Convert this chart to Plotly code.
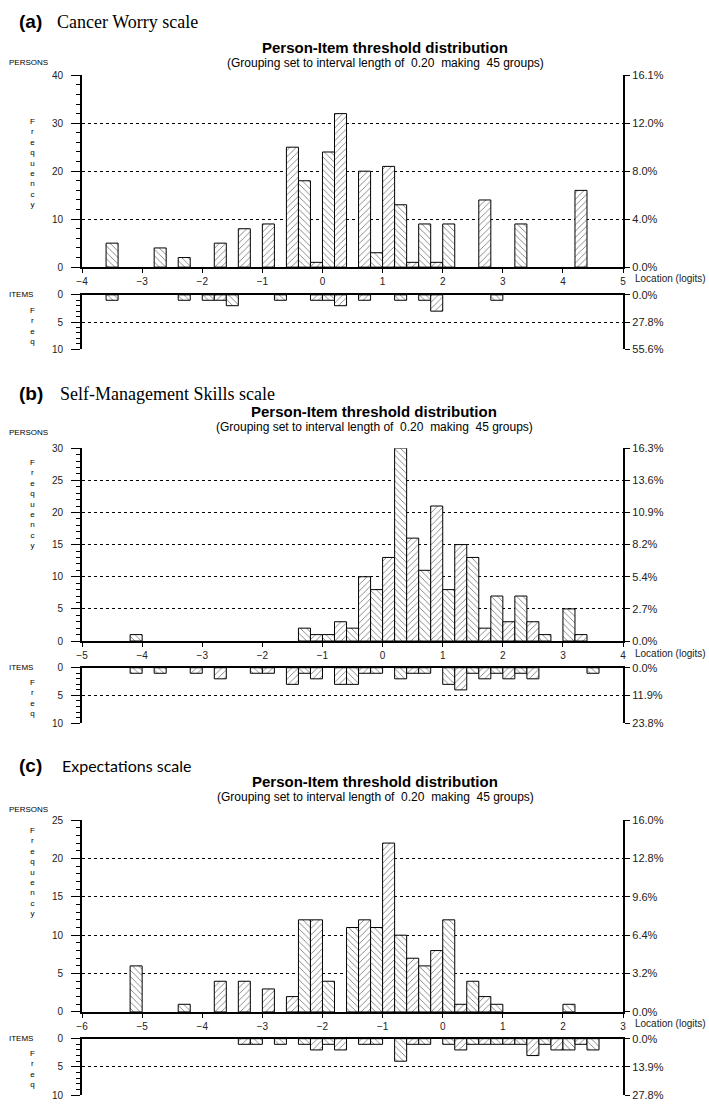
import plotly.graph_objects as go

# (a) Cancer Worry scale -- lower edge of each 0.20 logit class interval
a_person_bins = [-3.6, -2.8, -2.4, -1.8, -1.4, -1.0, -0.6, -0.4, -0.2, 0.0, 0.2,
                 0.6, 0.8, 1.0, 1.2, 1.4, 1.6, 1.8, 2.0, 2.6, 3.2, 4.2]
a_person_counts = [5, 4, 2, 5, 8, 9, 25, 18, 1, 24, 32,
                   20, 3, 21, 13, 1, 9, 1, 9, 14, 9, 16]
a_item_bins = [-3.6, -2.4, -2.0, -1.8, -1.6, -0.8, -0.2, 0.0, 0.2, 0.6, 1.2, 1.6, 1.8, 2.8]
a_item_counts = [1, 1, 1, 1, 2, 1, 1, 1, 2, 1, 1, 1, 3, 1]
a_person_ticks = [0, 10, 20, 30, 40]
a_person_pct = ["0.0%", "4.0%", "8.0%", "12.0%", "16.1%"]
a_item_pct = ["0.0%", "27.8%", "55.6%"]

# (b) Self-Management Skills scale
b_person_bins = [-4.2, -1.4, -1.2, -1.0, -0.8, -0.6, -0.4, -0.2, 0.0, 0.2, 0.4, 0.6,
                 0.8, 1.0, 1.2, 1.4, 1.6, 1.8, 2.0, 2.2, 2.4, 2.6, 3.0, 3.2]
b_person_counts = [1, 2, 1, 1, 3, 2, 10, 8, 13, 30, 16, 11,
                   21, 8, 15, 13, 2, 7, 3, 7, 3, 1, 5, 1]
b_item_bins = [-4.2, -3.8, -3.2, -2.8, -2.2, -2.0, -1.6, -1.4, -1.2, -0.8, -0.6, -0.4, -0.2,
               0.2, 0.4, 0.6, 1.0, 1.2, 1.4, 1.6, 1.8, 2.0, 2.2, 2.4, 3.4]
b_item_counts = [1, 1, 1, 2, 1, 1, 3, 1, 2, 3, 3, 1, 1,
                 2, 1, 1, 3, 4, 1, 2, 1, 2, 1, 2, 1]
b_person_ticks = [0, 5, 10, 15, 20, 25, 30]
b_person_pct = ["0.0%", "2.7%", "5.4%", "8.2%", "10.9%", "13.6%", "16.3%"]
b_item_pct = ["0.0%", "11.9%", "23.8%"]

# (c) Expectations scale
c_person_bins = [-5.2, -4.4, -3.8, -3.4, -3.0, -2.6, -2.4, -2.2, -2.0, -1.6, -1.4, -1.2,
                 -1.0, -0.8, -0.6, -0.4, -0.2, 0.0, 0.2, 0.4, 0.6, 0.8, 2.0]
c_person_counts = [6, 1, 4, 4, 3, 2, 12, 12, 4, 11, 12, 11,
                   22, 10, 7, 6, 8, 12, 1, 4, 2, 1, 1]
c_item_bins = [-3.4, -3.2, -2.8, -2.4, -2.2, -2.0, -1.8, -1.4, -1.2, -0.8, -0.6, -0.4,
               0.0, 0.2, 0.4, 0.6, 0.8, 1.0, 1.2, 1.4, 1.6, 1.8, 2.0, 2.2, 2.4]
c_item_counts = [1, 1, 1, 1, 2, 1, 2, 1, 1, 4, 1, 1,
                 1, 2, 1, 1, 1, 1, 1, 3, 1, 2, 2, 1, 2]
c_person_ticks = [0, 5, 10, 15, 20, 25]
c_person_pct = ["0.0%", "3.2%", "6.4%", "9.6%", "12.8%", "16.0%"]
c_item_pct = ["0.0%", "13.9%", "27.8%"]

item_ticks = [0, 5, 10]

panels = [
    dict(tag="(a)", name="Cancer Worry scale", name_font="Liberation Serif", name_size=18,
         xr=[-4, 5], pb=a_person_bins, pc=a_person_counts, ib=a_item_bins, ic=a_item_counts,
         pt=a_person_ticks, pp=a_person_pct, ip=a_item_pct, minor=2),
    dict(tag="(b)", name="Self-Management Skills scale", name_font="Liberation Serif", name_size=18,
         xr=[-5, 4], pb=b_person_bins, pc=b_person_counts, ib=b_item_bins, ic=b_item_counts,
         pt=b_person_ticks, pp=b_person_pct, ip=b_item_pct, minor=1),
    dict(tag="(c)", name="Expectations scale", name_font="Lato", name_size=16,
         xr=[-6, 3], pb=c_person_bins, pc=c_person_counts, ib=c_item_bins, ic=c_item_counts,
         pt=c_person_ticks, pp=c_person_pct, ip=c_item_pct, minor=1),
]

# pixel layout of each panel on the 709 x 1105 page
W, H = 709, 1105
X0, X1 = 77, 625
geo = [
    dict(p_top=70, p_bot=264, i_top=292, i_bot=347, tag_y=16, name_x=50, title_y=42, title_x=384,
         persons_y=57, loc_y=275, freq_y=159, ifreq_y=324),
    dict(p_top=447, p_bot=642, i_top=669, i_bot=725, tag_y=392, name_x=53, title_y=410, title_x=373,
         persons_y=431, loc_y=655, freq_y=503, ifreq_y=700),
    dict(p_top=823, p_bot=1017, i_top=1044, i_bot=1101, tag_y=768, name_x=55, title_y=784, title_x=374,
         persons_y=812, loc_y=1029, freq_y=876, ifreq_y=1075),
]

SANS = "Liberation Sans, Arial, sans-serif"
TICKFONT = dict(family=SANS, size=10, color="#222")
PCTFONT = dict(family=SANS, size=11, color="#222")


def px(x):
    return x / W


def py(y):
    return 1 - y / H


def ax(kind, n):
    return kind if n == 1 else kind + str(n)


def hatch(bins, xmin):
    # hatch direction flips between neighbouring class intervals
    return ["\\" if round((b - xmin) / 0.2) % 2 == 0 else "/" for b in bins]


def bars(bins, counts, xmin, xa, ya):
    return go.Bar(x=bins, y=counts, width=0.2, offset=0, xaxis=xa, yaxis=ya,
                  marker=dict(color="white", line=dict(color="black", width=1),
                              pattern=dict(shape=hatch(bins, xmin), fgcolor="black",
                                           bgcolor="white", size=4.5, solidity=0.2)),
                  showlegend=False, hoverinfo="skip")


def holder(xa, ya):
    # empty trace so the right-hand percentage axis gets drawn
    return go.Scatter(x=[], y=[], xaxis=xa, yaxis=ya, showlegend=False, hoverinfo="skip")


fig = go.Figure()
layout = {}
annotations = []


def note(text, x, y, size, xanchor="left", font=SANS, color="black"):
    annotations.append(dict(text=text, x=px(x), y=py(y), xref="paper", yref="paper",
                            xanchor=xanchor, yanchor="middle", showarrow=False,
                            font=dict(family=font, size=size, color=color)))


grid = dict(showgrid=True, gridcolor="black", gridwidth=1, griddash="3px,3px")
line = dict(showline=True, linecolor="black", linewidth=2, zeroline=False)

for k, (p, g) in enumerate(zip(panels, geo)):
    xp, xi = 2 * k + 1, 2 * k + 2
    yp, ypr, yi, yir = 4 * k + 1, 4 * k + 2, 4 * k + 3, 4 * k + 4
    xmin, xmax = p["xr"]

    fig.add_trace(bars(p["pb"], p["pc"], xmin, ax("x", xp), ax("y", yp)))
    fig.add_trace(bars(p["ib"], p["ic"], xmin, ax("x", xi), ax("y", yi)))
    fig.add_trace(holder(ax("x", xp), ax("y", ypr)))
    fig.add_trace(holder(ax("x", xi), ax("y", yir)))

    xdom = [px(X0), px(X1)]
    pdom = [py(g["p_bot"]), py(g["p_top"])]
    idom = [py(g["i_bot"]), py(g["i_top"])]
    ytop = p["pt"][-1]
    major = p["pt"][1]

    layout[ax("xaxis", xp)] = dict(domain=xdom, range=[xmin, xmax], anchor=ax("y", yp), dtick=1,
                                   ticks="outside", ticklen=4, tickcolor="black", showgrid=False,
                                   tickfont=TICKFONT, **line)
    layout[ax("xaxis", xi)] = dict(domain=xdom, range=[xmin, xmax], anchor=ax("y", yi), side="top",
                                   showticklabels=False, ticks="", showgrid=False, **line)
    layout[ax("yaxis", yp)] = dict(domain=pdom, range=[0, ytop], anchor=ax("x", xp), dtick=major,
                                   ticks="outside", ticklen=9, tickcolor="black", tickfont=TICKFONT,
                                   ticklabelstandoff=6,
                                   minor=dict(dtick=p["minor"], ticks="outside", ticklen=4,
                                              tickcolor="black", showgrid=False),
                                   **grid, **line)
    layout[ax("yaxis", ypr)] = dict(domain=pdom, range=[0, ytop], anchor=ax("x", xp),
                                    overlaying=ax("y", yp), side="right", tickvals=p["pt"],
                                    ticktext=p["pp"], ticks="outside", ticklen=5, tickcolor="black",
                                    tickfont=PCTFONT, showgrid=False, **line)
    layout[ax("yaxis", yi)] = dict(domain=idom, range=[10, 0], anchor=ax("x", xi), tickvals=item_ticks,
                                   ticks="outside", ticklen=9, tickcolor="black", tickfont=TICKFONT,
                                   ticklabelstandoff=6,
                                   minor=dict(dtick=1, ticks="outside", ticklen=4,
                                              tickcolor="black", showgrid=False),
                                   **grid, **line)
    layout[ax("yaxis", yir)] = dict(domain=idom, range=[10, 0], anchor=ax("x", xi),
                                    overlaying=ax("y", yi), side="right", tickvals=item_ticks,
                                    ticktext=p["ip"], ticks="outside", ticklen=5, tickcolor="black",
                                    tickfont=PCTFONT, showgrid=False, **line)

    # headings and side labels
    note("<b>" + p["tag"] + "</b>", 11, g["tag_y"], 19)
    note(p["name"], g["name_x"], g["tag_y"], p["name_size"], font=p["name_font"])
    note("<b>Person-Item threshold distribution</b>", g["title_x"], g["title_y"], 15, "center")
    note("(Grouping set to interval length of\u00a0 0.20\u00a0 making\u00a0 45 groups)",
         g["title_x"], g["title_y"] + 16, 12, "center")
    note("PERSONS", 1, g["persons_y"], 8)
    note("ITEMS", 1, g["i_top"], 8)
    note("<br>".join("Frequency"), 22, g["freq_y"], 8)
    note("<br>".join("Freq"), 22, g["ifreq_y"], 8)
    note("Location (logits)", 635, g["loc_y"], 10, color="#222")

fig.update_layout(**layout)
fig.update_layout(width=W, height=H, margin=dict(l=0, r=0, t=0, b=0),
                  paper_bgcolor="white", plot_bgcolor="white",
                  annotations=annotations, barmode="overlay")

# drop the browser's default page margin so the figure fills the window exactly
fig.write_html("out.html", config={"displayModeBar": False},
               post_script="document.body.style.margin='0';document.body.style.overflow='hidden';")
